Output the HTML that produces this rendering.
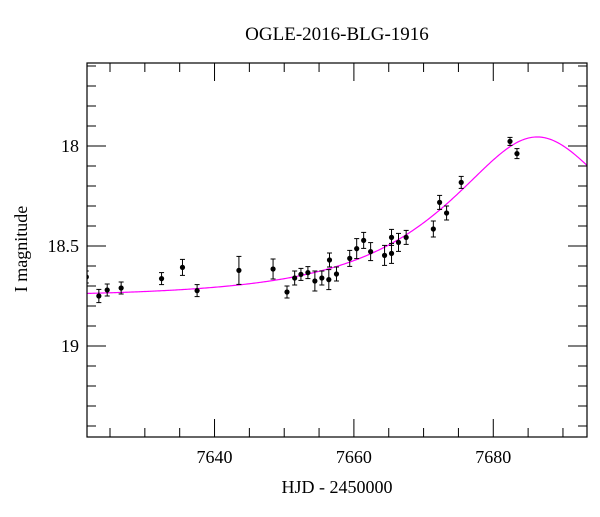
<!DOCTYPE html>
<html><head><meta charset="utf-8"><style>
html,body{margin:0;padding:0;background:#fff;}
svg text{font-family:"Liberation Serif",serif;fill:#000;}
</style></head><body>
<svg id="chart" width="600" height="512" viewBox="0 0 600 512" xmlns="http://www.w3.org/2000/svg">
<text x="337" y="40" font-size="19" text-anchor="middle">OGLE-2016-BLG-1916</text>
<text x="337" y="493" font-size="18" text-anchor="middle">HJD - 2450000</text>
<text x="0" y="0" font-size="18" text-anchor="middle" transform="translate(27,249) rotate(-90)">I magnitude</text>
<g id="ticks"></g>
<g id="model"></g>
<g id="pts"></g>
<rect x="87" y="63" width="500" height="374" fill="none" stroke="#000" stroke-width="1.2"/>
</svg>
<script>
const days = [7621.6,7623.4,7624.6,7626.6,7632.4,7635.4,7637.5,7643.5,7648.4,7650.4,7651.5,7652.4,7653.4,7654.4,7655.4,7656.4,7656.5,7657.5,7659.4,7660.4,7661.4,7662.4,7664.4,7665.4,7665.4,7666.4,7667.5,7671.4,7672.3,7673.3,7675.4,7682.4,7683.4];
const mags = [18.655,18.75,18.72,18.71,18.663,18.607,18.723,18.622,18.615,18.73,18.66,18.642,18.633,18.675,18.66,18.668,18.57,18.64,18.562,18.513,18.472,18.528,18.547,18.457,18.537,18.482,18.457,18.415,18.282,18.335,18.182,17.977,18.038];
const errs = [0.03,0.033,0.03,0.03,0.03,0.04,0.03,0.07,0.05,0.03,0.035,0.03,0.03,0.05,0.035,0.05,0.035,0.035,0.04,0.05,0.04,0.045,0.05,0.04,0.05,0.045,0.035,0.04,0.035,0.035,0.03,0.02,0.025];
const xMajor = [7640,7660,7680];
const yMajor = [18,18.5,19];
const yMajorLabels = ["18","18.5","19"];
const model = {t0:7686.3, tE:21.7, u0:0.527, base:18.755};

const X0=87,X1=587,Y0=63,Y1=437, D0=7621.7, D1=7693.45, M0=17.585, M1=19.455;
function sx(d){return X0+(d-D0)/(D1-D0)*(X1-X0);}
function sy(m){return Y0+(m-M0)/(M1-M0)*(Y1-Y0);}
const NS="http://www.w3.org/2000/svg";
function mk(tag,attrs,parent){const e=document.createElementNS(NS,tag);for(const k in attrs)e.setAttribute(k,attrs[k]);parent.appendChild(e);return e;}
const tg=document.getElementById('ticks');
for(let d=7625; d<=7690; d+=5){
  const maj = xMajor.includes(d); const L = maj?18:9; const x=sx(d);
  const t1=mk('line',{x1:x,x2:x,y1:Y1,y2:Y1-L,stroke:'#000','stroke-width':1},tg);
  
  
  const t2=mk('line',{x1:x,x2:x,y1:Y0,y2:Y0+L,stroke:'#000','stroke-width':1},tg);
  
  
}
xMajor.forEach(d=>{
  const t=mk('text',{x:sx(d),y:463,'font-size':18,'text-anchor':'middle'},tg);
  t.textContent=String(d);
  
  
});
for(let i=0;i<=18;i++){
  const m=17.6+i*0.1; const maj=yMajor.some(v=>Math.abs(v-m)<1e-6); const L=maj?19:9; const y=sy(m);
  const t1=mk('line',{x1:X0,x2:X0+L,y1:y,y2:y,stroke:'#000','stroke-width':1},tg);
  
  
  const t2=mk('line',{x1:X1,x2:X1-L,y1:y,y2:y,stroke:'#000','stroke-width':1},tg);
  
  
}
yMajor.forEach((m,i)=>{
  const t=mk('text',{x:79,y:sy(m)+6,'font-size':18,'text-anchor':'end'},tg);
  t.textContent=yMajorLabels[i];
  
  
});
function amp(u){return (u*u+2)/(u*Math.sqrt(u*u+4));}
let dstr='';
for(let i=0;i<=400;i++){
  const d=D0+(D1-D0)*i/400; const tau=(d-model.t0)/model.tE;
  const u=Math.sqrt(tau*tau+model.u0*model.u0);
  const m=model.base-2.5*Math.log10(amp(u));
  dstr+=(i?'L':'M')+sx(d).toFixed(2)+' '+sy(m).toFixed(2);
}
const p=mk('path',{d:dstr,fill:'none',stroke:'#ff00ff','stroke-width':1.2},document.getElementById('model'));


const pg=document.getElementById('pts');
const clip=mk('clipPath',{id:'pc'},pg);
mk('rect',{x:X0,y:Y0,width:X1-X0,height:Y1-Y0},clip);
pg.setAttribute('clip-path','url(#pc)');
days.forEach((d,i)=>{
  const x=sx(d), y=sy(mags[i]), ya=sy(mags[i]-errs[i]), yb=sy(mags[i]+errs[i]);
  const g=mk('g',{},pg);
  
  
  mk('line',{x1:x,x2:x,y1:ya,y2:yb,stroke:'#000','stroke-width':1},g);
  mk('line',{x1:x-2.5,x2:x+2.5,y1:ya,y2:ya,stroke:'#000','stroke-width':1},g);
  mk('line',{x1:x-2.5,x2:x+2.5,y1:yb,y2:yb,stroke:'#000','stroke-width':1},g);
  mk('circle',{cx:x,cy:y,r:2.6,fill:'#000'},g);
});
</script>
</body></html>
